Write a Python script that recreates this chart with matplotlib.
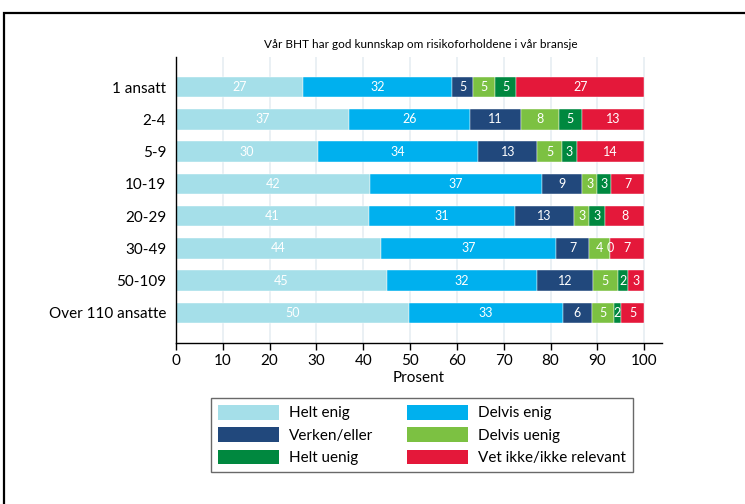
import matplotlib
matplotlib.use("Agg")
import matplotlib.pyplot as plt
from matplotlib.patches import Rectangle, Patch
import numpy as np

plt.rcParams['font.family'] = ['Lato', 'DejaVu Sans']

title = "Vår BHT har god kunnskap om risikoforholdene i vår bransje"
categories = ["1 ansatt", "2-4", "5-9", "10-19", "20-29", "30-49", "50-109", "Over 110 ansatte"]
series_names = ["Helt enig", "Delvis enig", "Verken/eller", "Delvis uenig", "Helt uenig",
                "Vet ikke/ikke relevant"]
colors = ["#a5dfe9", "#00b0ee", "#21487c", "#7cc142", "#00883f", "#e4183a"]

helt_enig    = [27.1, 36.9, 30.3, 41.5, 41.2, 43.8, 45.0, 49.8]
delvis_enig  = [31.8, 25.9, 34.3, 36.6, 31.2, 37.3, 32.2, 32.8]
verken_eller = [4.6, 10.9, 12.6, 8.6, 12.6, 7.2, 11.8, 6.2]
delvis_uenig = [4.6, 8.0, 5.3, 3.3, 3.3, 4.4, 5.4, 4.7]
helt_uenig   = [4.6, 5.0, 3.1, 2.9, 3.3, 0.0, 2.2, 1.6]
vet_ikke     = [27.3, 13.3, 14.4, 7.1, 8.4, 7.3, 3.4, 4.9]
series = [helt_enig, delvis_enig, verken_eller, delvis_uenig, helt_uenig, vet_ikke]

xticks = list(range(0, 101, 10))
xlabel = "Prosent"

fig = plt.figure(figsize=(7.45, 5.04), dpi=100)
ax = fig.add_axes([176 / 745, 1 - 343 / 504, 486 / 745, 286 / 504])

y = np.arange(len(categories))
left = np.zeros(len(categories))
handles = []
for name, vals, col in zip(series_names, series, colors):
    vals = np.array(vals)
    bars = ax.barh(y, vals, left=left, height=0.64, color=col, edgecolor="white",
                   linewidth=0.3, label=name, zorder=2)
    ax.bar_label(bars, labels=[f"{v:.0f}" for v in vals], label_type="center",
                 color="white", fontsize=9)
    left += vals
    handles.append(Patch(facecolor=col, edgecolor="none", label=name))

ax.set_xlim(0, 103.8)
ax.set_ylim(len(categories) - 1 + 0.93, -0.93)
ax.set_xticks(xticks)
ax.set_xticklabels([str(t) for t in xticks], fontsize=11)
ax.set_yticks(y)
ax.set_yticklabels(categories, fontsize=11)
ax.tick_params(axis="y", length=0, pad=7)
ax.tick_params(axis="x", length=5, width=1, pad=3, direction="out")
ax.xaxis.grid(True, color="#e6edf2", linewidth=1.2, zorder=0)
ax.set_axisbelow(True)
for s in ["top", "right"]:
    ax.spines[s].set_visible(False)
ax.spines["left"].set_linewidth(1)
ax.spines["bottom"].set_linewidth(1)
ax.set_xlabel(xlabel, fontsize=11, labelpad=2)

fig.text(421 / 745, 1 - 45 / 504, title, ha="center", va="center", fontsize=8.5)

order = [0, 2, 4, 1, 3, 5]
leg = fig.legend([handles[i] for i in order], [series_names[i] for i in order],
                 loc="center", bbox_to_anchor=(422 / 745, 1 - 435 / 504), ncol=2,
                 fontsize=11, frameon=True, fancybox=False, handlelength=4.0,
                 handleheight=1.1, handletextpad=0.65, columnspacing=2.2,
                 labelspacing=0.45, borderpad=0.45)
leg.get_frame().set_edgecolor("#444444")
leg.get_frame().set_linewidth(1.0)

fig.patches.append(Rectangle((4 / 745, -0.2), 1.2, 1 - 13 / 504 + 0.2,
                             transform=fig.transFigure, fill=False,
                             edgecolor="black", linewidth=1.6, clip_on=False))

fig.savefig("out.png", dpi=100)
